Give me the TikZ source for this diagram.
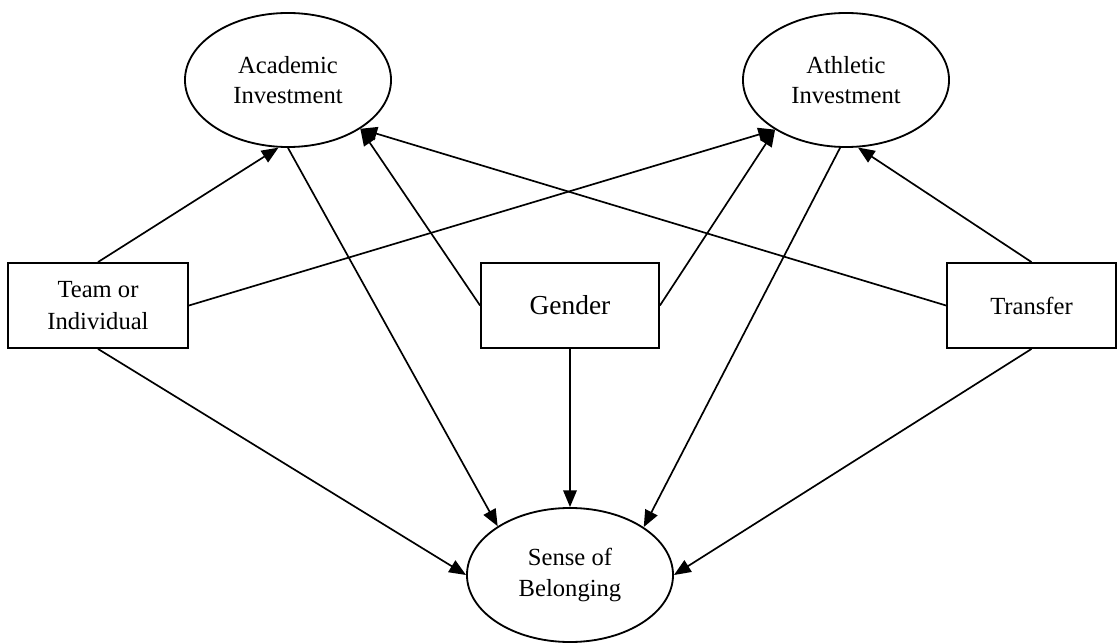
\documentclass[tikz,border=0pt]{standalone}
\usepackage{fontspec}
\setmainfont{Liberation Serif}
\usetikzlibrary{arrows.meta,shapes.geometric}

\begin{document}
\begin{tikzpicture}[x=0.025cm, y=-0.025cm,
    latent/.style={ellipse, draw, line width=1.3pt, minimum width=5.15cm, minimum height=3.35cm,
        inner sep=0pt, align=center, font=\fontsize{17.5}{21.5}\selectfont},
    observed/.style={rectangle, draw, line width=1.3pt, minimum height=2.125cm,
        inner sep=0pt, align=center, font=\fontsize{17.5}{22.5}\selectfont},
    effect/.style={-{Triangle[length=4.2mm,width=3.4mm]}, line width=1.2pt}]
\useasboundingbox (0,0) rectangle (1118,643);

% Mediators
\node[latent] (acad) at (288,80) {Academic\\Investment};
\node[latent] (athl) at (846,80) {Athletic\\Investment};

% Predictors
\node[observed, minimum width=4.5cm] (team) at (98,305.5) {Team or\\Individual};
\node[observed, minimum width=4.45cm, font=\fontsize{19.5}{23}\selectfont] (gender) at (570,305.5) {Gender};
\node[observed, minimum width=4.225cm] (transfer) at (1031.5,305.5) {Transfer};

% Outcome
\node[latent] (sense) at (570,575) {Sense of\\Belonging};

% Paths to the mediators
\draw[effect] (team.north) -- (acad.262);
\draw[effect] (team.east) -- (athl.215);
\draw[effect] (gender.west) -- (acad.326);
\draw[effect] (gender.east) -- (athl.215);
\draw[effect] (transfer.west) -- (acad.326);
\draw[effect] (transfer.north) -- (athl.280);

% Paths to the outcome
\draw[effect] (team.south) -- (sense.west);
\draw[effect] (acad.south) -- (sense.146);
\draw[effect] (gender.south) -- (sense.north);
\draw[effect] (athl.265) -- (sense.33);
\draw[effect] (transfer.south) -- (sense.east);
\end{tikzpicture}
\end{document}
